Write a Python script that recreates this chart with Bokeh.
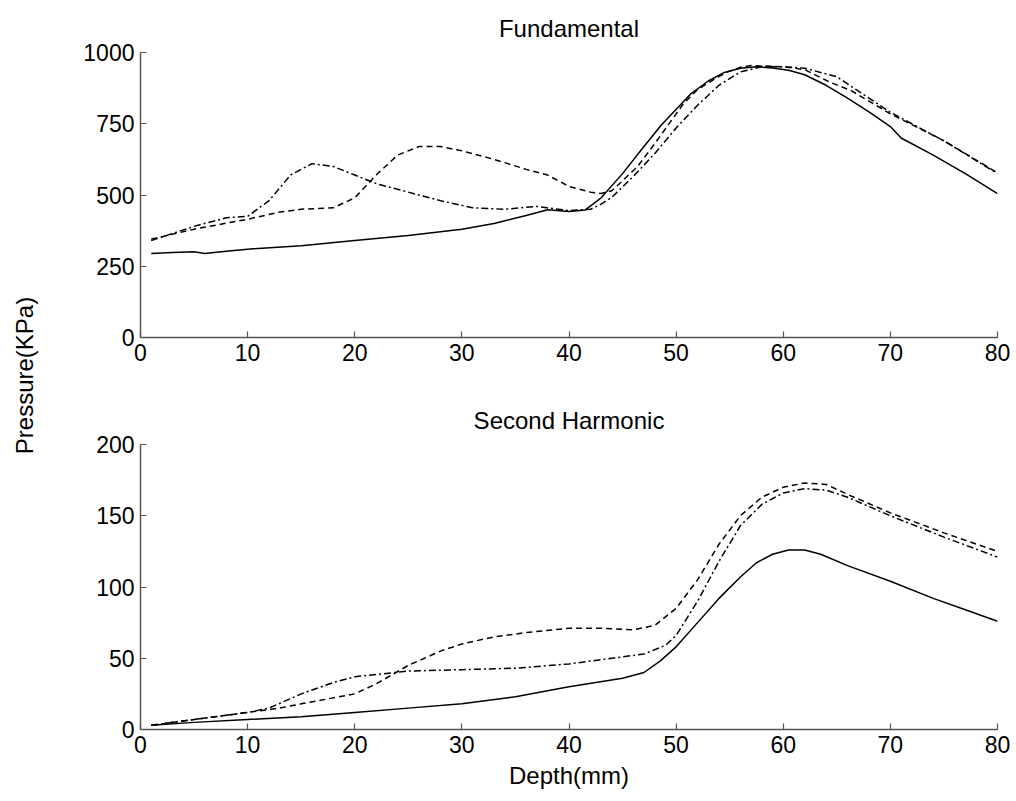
from bokeh.plotting import figure
from bokeh.layouts import row, column
from bokeh.models import Label, FixedTicker, Range1d
from bokeh.embed import file_html
from bokeh.resources import INLINE
import math

# ---------------- data ----------------
# Fundamental (top)
fund_solid_x = [1, 3, 5, 6, 8, 10, 15, 20, 25, 30, 33, 36, 38, 40, 41.5, 43, 45, 46.7, 48.6, 51.4, 53, 54.5, 56, 57.5, 59, 60.5, 62, 64, 66, 68, 70, 71, 74, 77, 80]
fund_solid_y = [295, 298, 301, 295, 303, 310, 322, 340, 358, 380, 400, 428, 448, 442, 447, 490, 575, 656, 745, 856, 900, 930, 945, 950, 946, 938, 922, 885, 840, 792, 740, 700, 640, 575, 505]

fund_dash_x = [1, 5, 10, 13, 15, 18, 20, 22, 24, 26, 28, 30, 33, 36, 38, 40, 42, 43, 44, 45, 46.4, 48, 50.7, 52, 53.5, 54.8, 56, 57, 58, 60, 62, 64.4, 66.3, 70, 75, 80]
fund_dash_y = [345, 380, 415, 440, 450, 455, 490, 570, 640, 670, 670, 655, 625, 590, 570, 530, 510, 505, 515, 550, 600, 680, 821, 870, 905, 932, 948, 954, 953, 950, 940, 895, 867, 785, 690, 578]

fund_dd_x = [1, 5, 8, 10, 12, 14, 16, 18, 20, 22, 25, 28, 31, 34, 37, 40, 42, 43, 44, 46, 48, 50, 52, 54, 56, 58, 60, 62, 65, 70, 75, 80]
fund_dd_y = [340, 390, 420, 425, 480, 570, 610, 600, 570, 540, 510, 480, 455, 450, 460, 445, 450, 468, 492, 565, 645, 735, 815, 885, 932, 950, 950, 945, 915, 790, 690, 575]

# Second harmonic (bottom)
sh_solid_x = [1, 5, 10, 15, 20, 25, 30, 35, 40, 45, 47, 48.5, 50, 52, 54, 56, 57.5, 59, 60.5, 62, 63.5, 66, 70, 74, 77, 80]
sh_solid_y = [3, 5, 7, 9, 12, 15, 18, 23, 30, 36, 40, 48, 58, 75, 92, 107, 117, 123, 126, 126, 123, 115, 104, 92, 84, 76]

sh_dash_x = [1, 5, 10, 13, 15, 20, 22, 25, 28, 30, 33, 36, 40, 43, 46, 48, 50, 52, 54, 56, 58, 60, 62, 64, 66, 70, 75, 80]
sh_dash_y = [3, 7, 12, 15, 18, 25, 32, 45, 55, 60, 65, 68, 71, 71, 70, 73, 85, 105, 130, 150, 163, 170, 173, 172, 165, 152, 138, 125]

sh_dd_x = [1, 5, 10, 12, 15, 18, 20, 25, 30, 35, 40, 45, 47, 49, 50, 52, 54, 56, 58, 60, 62, 64, 66, 70, 75, 80]
sh_dd_y = [3, 7, 12, 15, 25, 33, 37, 41, 42, 43, 46, 51, 53, 59, 66, 90, 118, 143, 158, 166, 169, 168, 163, 150, 135, 121]

x_ticks = [0, 10, 20, 30, 40, 50, 60, 70, 80]
top_y_ticks = [0, 250, 500, 750, 1000]
bot_y_ticks = [0, 50, 100, 150, 200]

FONT = "Liberation Sans"
TICK_SIZE = "23px"
LABEL_SIZE = "24px"
AXIS_COLOR = "#555555"


def style(p, yticks):
    p.outline_line_color = None
    p.xgrid.grid_line_color = None
    p.ygrid.grid_line_color = None
    p.background_fill_color = "white"
    p.border_fill_color = "white"
    p.xaxis.ticker = FixedTicker(ticks=x_ticks)
    p.yaxis.ticker = FixedTicker(ticks=yticks)
    for ax in (p.xaxis[0], p.yaxis[0]):
        ax.axis_line_color = AXIS_COLOR
        ax.axis_line_width = 1.5
        ax.major_tick_line_color = AXIS_COLOR
        ax.major_tick_line_width = 1.2
        ax.major_tick_in = 6
        ax.major_tick_out = 0
        ax.minor_tick_line_color = None
        ax.major_label_text_font = FONT
        ax.major_label_text_font_size = TICK_SIZE
        ax.major_label_text_color = "black"
        ax.major_label_standoff = 6


def style_title(p, text):
    p.title.text = text
    p.title.align = "center"
    p.title.text_font = FONT
    p.title.text_font_size = LABEL_SIZE
    p.title.text_font_style = "normal"
    p.title.text_color = "black"
    p.title.standoff = 21


def draw(p, sx, sy, dx, dy, ddx, ddy):
    p.line(sx, sy, line_color="black", line_width=1.5, line_join="round")
    p.line(dx, dy, line_color="black", line_width=1.5, line_dash="6 4", line_join="round")
    p.line(ddx, ddy, line_color="black", line_width=1.5, line_dash="7 3 2 3", line_join="round")


top = figure(width=966, height=390, output_backend="svg", toolbar_location=None,
             x_range=Range1d(0, 80), y_range=Range1d(0, 1000),
             min_border_left=90, min_border_right=19, min_border_top=52, min_border_bottom=53)
style_title(top, "Fundamental")
style(top, top_y_ticks)
draw(top, fund_solid_x, fund_solid_y, fund_dash_x, fund_dash_y, fund_dd_x, fund_dd_y)

bot = figure(width=966, height=411, output_backend="svg", toolbar_location=None,
             x_range=Range1d(0, 80), y_range=Range1d(0, 200),
             min_border_left=90, min_border_right=19, min_border_top=54, min_border_bottom=72)
style_title(bot, "Second Harmonic")
style(bot, bot_y_ticks)
bot.xaxis.axis_label = "Depth(mm)"
bot.xaxis.axis_label_text_font = FONT
bot.xaxis.axis_label_text_font_size = LABEL_SIZE
bot.xaxis.axis_label_text_font_style = "normal"
bot.xaxis.axis_label_text_color = "black"
bot.xaxis.axis_label_standoff = 6
draw(bot, sh_solid_x, sh_solid_y, sh_dash_x, sh_dash_y, sh_dd_x, sh_dd_y)

lab = figure(width=50, height=801, output_backend="svg", toolbar_location=None,
             x_range=Range1d(0, 1), y_range=Range1d(0, 801),
             min_border=0)
lab.axis.visible = False
lab.grid.visible = False
lab.outline_line_color = None
lab.add_layout(Label(x=0.48, y=801 - 375, text="Pressure(KPa)", angle=math.pi / 2,
                     text_align="center", text_baseline="middle",
                     text_font=FONT, text_font_size=LABEL_SIZE, text_color="black"))

layout = row(lab, column(top, bot, spacing=0), spacing=0)

open("out.html", "w").write(file_html(layout, INLINE))
